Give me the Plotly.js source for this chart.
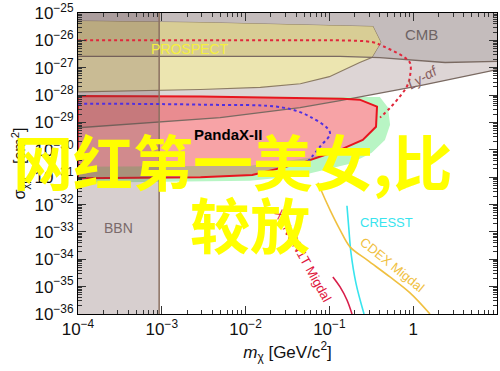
<!DOCTYPE html>
<html>
<head>
<meta charset="utf-8">
<script src="https://cdn.plot.ly/plotly-3.0.1.min.js"></script>
<style>html,body{margin:0;padding:0;background:#fff}#chart{width:500px;height:371px}</style>
</head>
<body>
<div id="chart"></div>
<script>
// ---- tick labels ----
const xTickVals = [1e-4, 1e-3, 1e-2, 1e-1, 1];
const xTickText = ['10<sup>−4</sup>', '10<sup>−3</sup>', '10<sup>−2</sup>', '10<sup>−1</sup>', '1'];
const yTickVals = [1e-36, 1e-35, 1e-34, 1e-33, 1e-32, 1e-31, 1e-30, 1e-29, 1e-28, 1e-27, 1e-26, 1e-25];
const yTickText = ['10<sup>−36</sup>', '10<sup>−35</sup>', '10<sup>−34</sup>', '10<sup>−33</sup>', '10<sup>−32</sup>', '10<sup>−31</sup>',
                   '10<sup>−30</sup>', '10<sup>−29</sup>', '10<sup>−28</sup>', '10<sup>−27</sup>', '10<sup>−26</sup>', '10<sup>−25</sup>'];

// ---- region boundaries (mass in GeV/c^2, cross section in cm^2) ----
const cmbLineX = [1e-4, 0.134, 0.40, 1.2, 2.4, 10];
const cmbLineY = [2.6e-27, 2.6e-27, 2.35e-27, 1.8e-27, 1.55e-27, 1.7e-27];

const lyaLineX = [1e-4, 4.96e-3, 0.0446, 0.134, 1.21, 10];
const lyaLineY = [6.4e-30, 1.5e-29, 3.5e-29, 6.3e-29, 2.2e-28, 8.5e-28];

const prospectX = [1e-4, 2.9e-3, 0.10, 0.33, 0.41, 0.32, 0.23, 0.15, 0.10, 0.045, 0.015, 2.9e-3, 1e-4, 1e-4];
const prospectY = [5.1e-26, 4.5e-26, 3.5e-26, 3.2e-26, 8.3e-27, 2.35e-27, 1.55e-27, 8.5e-28, 4.7e-28, 2.6e-28, 1.9e-28, 1.6e-28, 1.3e-28, 5.1e-26];

const prospectCmbX = [1e-4, 2.9e-3, 0.10, 0.33, 0.41, 0.322, 0.134, 1e-4];
const prospectCmbY = [5.1e-26, 4.5e-26, 3.5e-26, 3.2e-26, 8.3e-27, 2.45e-27, 2.6e-27, 2.6e-27];

const greenX = [1e-4, 0.15, 0.40, 0.50, 0.53, 0.46, 0.32, 0.176, 0.0446, 0.0113, 1e-4];
const greenY = [9.2e-29, 8.5e-29, 8.5e-29, 3.5e-29, 8.3e-30, 2.3e-30, 7.8e-31, 3.1e-31, 1.13e-31, 7.4e-32, 6.25e-32];

const pandaX = [1e-4, 2.9e-3, 0.145, 0.23, 0.37, 0.36, 0.25, 0.134, 0.048, 0.012, 2.9e-3, 1e-4, 1e-4];
const pandaY = [9.2e-29, 8.8e-29, 7.4e-29, 6.8e-29, 3.8e-29, 7.0e-30, 2.3e-30, 1.0e-30, 3.4e-31, 1.2e-31, 1.0e-31, 9.1e-32, 9.2e-29];

const pandaLyaX = [1e-4, 2.9e-3, 0.145, 0.176, 0.134, 0.0446, 4.96e-3, 1e-4];
const pandaLyaY = [9.2e-29, 8.8e-29, 7.4e-29, 7.2e-29, 6.3e-29, 3.5e-29, 1.5e-29, 6.4e-30];

const stripX = [1e-4, 0.0113, 0.0586, 0.134, 0.134, 0.048, 0.012, 2.9e-3, 1e-4];
const stripY = [2.4e-31, 2.6e-31, 5.1e-31, 1.1e-30, 1.0e-30, 3.4e-31, 1.2e-31, 1.0e-31, 9.1e-32];

const bbnEdge = 9.3e-4;

// ---- curves ----
const blueDotX = [1e-4, 2.9e-3, 0.028, 0.0586, 0.1016, 0.0773, 0.0512];
const blueDotY = [4.86e-29, 4.47e-29, 3.48e-29, 1.63e-29, 4.23e-30, 1.30e-30, 2.85e-31];

const redDotX = [1e-4, 0.0446, 0.134, 0.331, 0.437, 0.755, 0.916, 0.916, 0.843, 0.695, 0.528, 0.402];
const redDotY = [1.01e-26, 1.01e-26, 1.0e-26, 8.5e-27, 6.1e-27, 2.6e-27, 1.5e-27, 4.9e-28, 2.1e-28, 9.0e-29, 3.4e-29, 1.5e-29];

const cresstX = [0.162, 0.171, 0.181, 0.207, 0.259];
const cresstY = [9.0e-33, 1.19e-33, 1.7e-34, 1.37e-35, 1e-36];

const cdexX = [0.0731, 0.0773, 0.1016, 0.134, 0.176, 0.281, 0.528, 0.916, 1.585];
const cdexY = [6.25e-32, 4.1e-32, 6.4e-33, 1.19e-33, 2.84e-34, 9.5e-35, 2.26e-35, 5.9e-36, 1e-36];

const migdalX = [0.110, 0.134, 0.162, 0.186];
const migdalY = [2.26e-35, 9.75e-36, 3.26e-36, 1e-36];

// ---- build traces ----
const FONT = 'Liberation Sans, Arial, Helvetica, sans-serif';
function fillTrace(x, y, color, line) {
  return {x: x, y: y, type: 'scatter', mode: line ? 'lines' : 'none', fill: 'toself', fillcolor: color,
          line: line || {width: 0}, hoverinfo: 'skip'};
}
function lineTrace(x, y, color, width, dash, shape) {
  return {x: x, y: y, type: 'scatter', mode: 'lines', line: {color: color, width: width, dash: dash || 'solid', shape: shape || 'linear'}, hoverinfo: 'skip'};
}
const yTop = 1e-25, yBot = 1e-36, xLeft = 1e-4, xRight = 10;

const traces = [
  fillTrace([xLeft].concat(lyaLineX, [xRight, xLeft]), [yTop].concat(lyaLineY, [yTop, yTop]), '#ddd5d5'),
  fillTrace([xLeft].concat(cmbLineX, [xRight, xLeft]), [yTop].concat(cmbLineY, [yTop, yTop]), '#c4bcbc'),
  fillTrace(prospectX, prospectY, '#ece5b0', {color: '#8c7c64', width: 1.2}),
  fillTrace(prospectCmbX, prospectCmbY, '#d8cd95'),
  lineTrace(cmbLineX, cmbLineY, '#7a6a62', 1.3),
  fillTrace(greenX, greenY, '#b8f5c4', null),
  fillTrace(pandaX, pandaY, '#f7a3a6'),
  fillTrace(pandaLyaX, pandaLyaY, '#e98c90'),
  fillTrace(stripX, stripY, '#c2ad8e'),
  lineTrace(lyaLineX, lyaLineY, '#7a6a62', 1.3),
  lineTrace(pandaX, pandaY, '#e8141e', 2),
  fillTrace([xLeft, bbnEdge, bbnEdge, xLeft, xLeft], [yBot, yBot, yTop, yTop, yBot], 'rgba(100,70,70,0.26)'),
  lineTrace([bbnEdge, bbnEdge], [yBot, yTop], '#8a7060', 1.5),
  lineTrace(redDotX, redDotY, '#e0283c', 2, 'dot', 'spline'),
  lineTrace(blueDotX, blueDotY, '#5030e0', 2, 'dot', 'spline'),
  lineTrace(cresstX, cresstY, '#38e4ee', 1.6, 'solid', 'spline'),
  lineTrace(cdexX, cdexY, '#f0c040', 1.6, 'solid', 'spline'),
  lineTrace(migdalX, migdalY, '#d81e4a', 1.6, 'solid', 'spline')
];

function lab(text, x, y, color, size, extra) {
  return Object.assign({text: text, xref: 'paper', yref: 'paper', x: x, y: y, xanchor: 'center', yanchor: 'middle',
    showarrow: false, font: {family: FONT, size: size, color: color}}, extra || {});
}
const annotations = [
  lab('CMB', 0.821, 0.928, '#6e6464', 15),
  lab('<i>Ly-αf</i>', 0.823, 0.789, '#8a6060', 14, {textangle: -30}),
  lab('PROSPECT', 0.265, 0.879, '#f5f040', 14),
  lab('<b>PandaX-II</b>', 0.358, 0.596, '#000000', 15),
  lab('BBN', 0.0955, 0.286, '#7a6a6a', 14),
  lab('CRESST', 0.737, 0.303, '#38e4ee', 13),
  lab('CDEX Migdal', 0.749, 0.163, '#f0c040', 13, {textangle: 39}),
  lab('XENON1T Migdal', 0.537, 0.196, '#e01840', 13, {textangle: 61}),
  {text: '<b>网红第一美女,比</b>', xref: 'paper', yref: 'paper', x: 0.370, y: 0.512, xanchor: 'center', yanchor: 'middle',
   showarrow: false, font: {family: 'Noto Sans CJK SC', size: 60, color: '#ffff00'}},
  {text: '<b>较放</b>', xref: 'paper', yref: 'paper', x: 0.410, y: 0.305, xanchor: 'center', yanchor: 'middle',
   showarrow: false, font: {family: 'Noto Sans CJK SC', size: 60, color: '#ffff00'}}
];

const axisCommon = {
  type: 'log', showline: true, linecolor: '#000', linewidth: 1, mirror: 'allticks',
  ticks: 'inside', ticklen: 8, tickcolor: '#333', tickwidth: 1, showgrid: false, zeroline: false,
  tickmode: 'array', tickfont: {family: FONT, size: 17, color: '#111'},
  minor: {ticks: 'inside', ticklen: 4, tickcolor: '#333', dtick: 'D1', showgrid: false}
};
const layout = {
  width: 500, height: 371,
  margin: {l: 78, r: 3, t: 13, b: 57},
  paper_bgcolor: '#fff', plot_bgcolor: '#fff',
  showlegend: false, hovermode: false,
  xaxis: Object.assign({}, axisCommon, {range: [-4, 1], tickvals: xTickVals, ticktext: xTickText,
    title: {text: '<i>m</i><sub>χ</sub> [GeV/c<sup>2</sup>]', font: {family: FONT, size: 17, color: '#111'}, standoff: 6}}),
  yaxis: Object.assign({}, axisCommon, {range: [-36, -25], tickvals: yTickVals, ticktext: yTickText,
    title: {text: 'σ<sub>χp</sub>&nbsp;&nbsp;&nbsp;[cm<sup>2</sup>]', font: {family: FONT, size: 16, color: '#111'}, standoff: 4}}),
  annotations: annotations
};
Plotly.newPlot('chart', traces, layout, {displayModeBar: false, staticPlot: true});
</script>
</body>
</html>
